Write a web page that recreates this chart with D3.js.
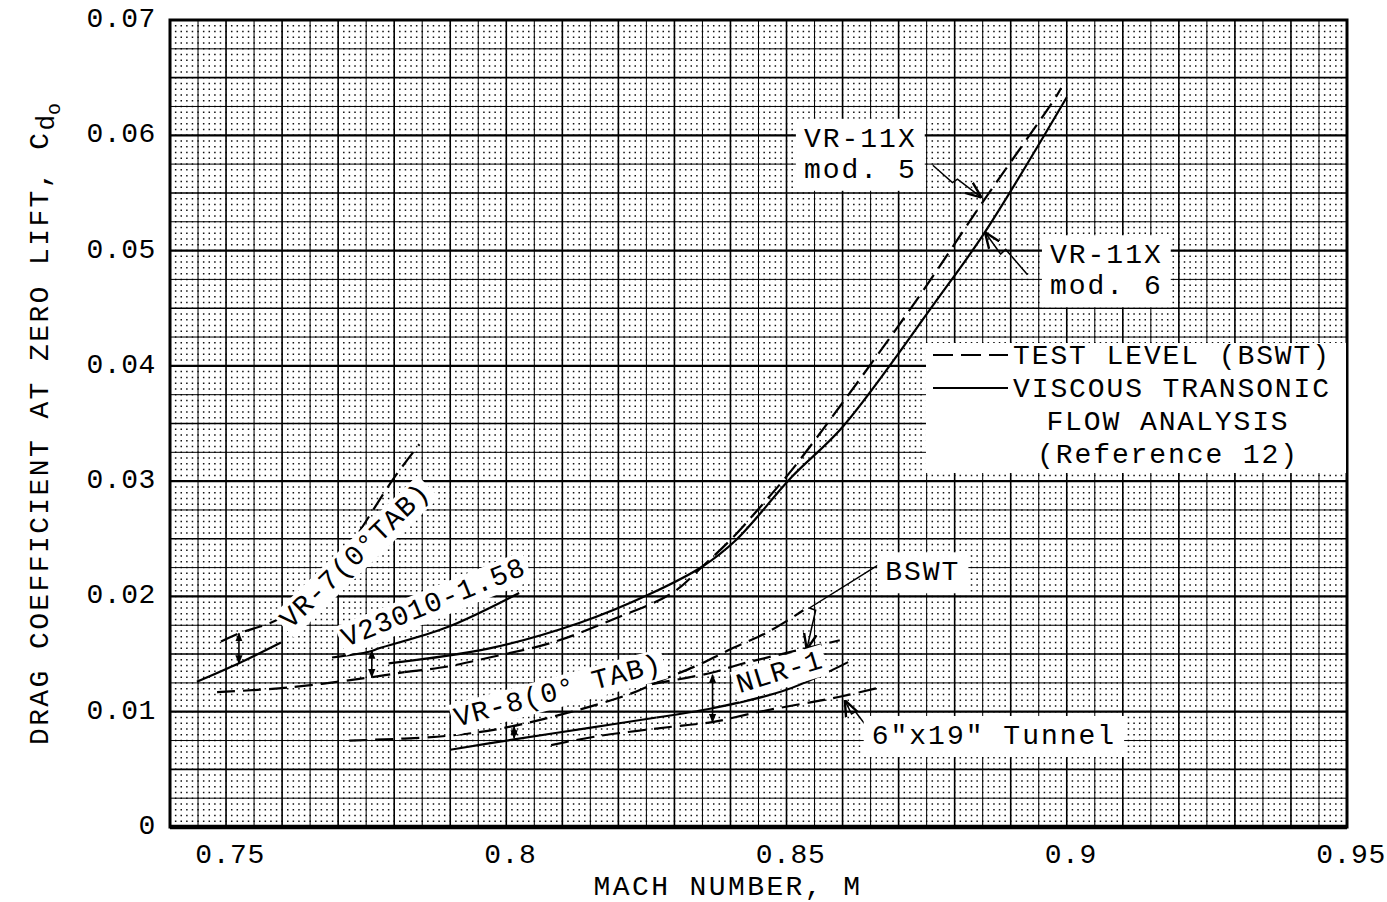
<!DOCTYPE html>
<html>
<head>
<meta charset="utf-8">
<script src="https://cdn.jsdelivr.net/npm/d3@7"></script>
<style>
  body { margin: 0; background: #fff; }
  svg text { font-family: "Liberation Mono", "DejaVu Sans Mono", monospace; fill: #000; }
</style>
</head>
<body>
<svg id="chart" width="1387" height="902"></svg>
<script>
// axis ticks
const xTicks = [0.75, 0.8, 0.85, 0.9, 0.95];
const xTickLabels = ["0.75", "0.8", "0.85", "0.9", "0.95"];
const yTicks = [0, 0.01, 0.02, 0.03, 0.04, 0.05, 0.06, 0.07];
const yTickLabels = ["0", "0.01", "0.02", "0.03", "0.04", "0.05", "0.06", "0.07"];

// curves, [mach, cd0]
const vr7Test = [[0.7491, 0.0161], [0.7523, 0.0168], [0.760, 0.0182], [0.769, 0.0223], [0.7732, 0.0252], [0.780, 0.0303], [0.7845, 0.0332]];
const vr7Analysis = [[0.7448, 0.0126], [0.7523, 0.0142], [0.7598, 0.0160]];
const v23010Test = [[0.7484, 0.0117], [0.7612, 0.0121], [0.776, 0.0130], [0.7818, 0.01344]];
const v23010Analysis = [[0.7689, 0.0147], [0.7755, 0.0152], [0.7773, 0.0155], [0.7893, 0.0173], [0.8023, 0.0203]];
const vr11xMod5 = [[0.7818, 0.01344], [0.7893, 0.0139], [0.797, 0.0147], [0.8082, 0.0160], [0.819, 0.0180], [0.8296, 0.0203],
  [0.835, 0.0226], [0.8404, 0.0251], [0.8452, 0.0277], [0.851, 0.0310], [0.860, 0.0368], [0.8732, 0.0457], [0.885, 0.0542],
  [0.8979, 0.0632], [0.899, 0.0641]];
const vr11xMod6 = [[0.779, 0.0142], [0.797, 0.0155], [0.813, 0.0177], [0.826, 0.0203], [0.835, 0.0226], [0.841, 0.0249],
  [0.851, 0.0304], [0.860, 0.0347], [0.8768, 0.0457], [0.8854, 0.0516], [0.900, 0.0633]];
const vr8Test = [[0.772, 0.0075], [0.7893, 0.0079], [0.8007, 0.0087], [0.8213, 0.0114], [0.828, 0.0128], [0.834, 0.0140],
  [0.8395, 0.0153], [0.847, 0.0170], [0.853, 0.0188]];
const vr8Analysis = [[0.790, 0.0067], [0.8014, 0.0076], [0.8148, 0.0086], [0.8268, 0.0095]];
const nlr1Analysis = [[0.8268, 0.0095], [0.8368, 0.0103], [0.850, 0.0119], [0.861, 0.0143]];
const nlr1Bswt = [[0.826, 0.0124], [0.8368, 0.0134], [0.8416, 0.0141], [0.850, 0.0151], [0.8595, 0.0162]];
const nlr1Tunnel = [[0.808, 0.0071], [0.8166, 0.0079], [0.8314, 0.0088], [0.8368, 0.0091], [0.8452, 0.0100], [0.8595, 0.0113], [0.8666, 0.0121]];

// small double arrows between test and analysis: [mach, low, high]
const deltaArrows = [[0.7523, 0.0142, 0.0168], [0.776, 0.0130, 0.0153], [0.8014, 0.0077, 0.0087], [0.8368, 0.0091, 0.0132]];

// leader lines to the callouts
const leaders = [
  [[0.8761, 0.0574], [0.8796, 0.0559], [0.8805, 0.0562], [0.8848, 0.0546]],
  [[0.8930, 0.0479], [0.8891, 0.0501], [0.8882, 0.0497], [0.8854, 0.0516]],
  [[0.8666, 0.0228], [0.8541, 0.0190], [0.8552, 0.0188], [0.8536, 0.0154]],
  [[0.8648, 0.0084], [0.8623, 0.0100], [0.8616, 0.0098], [0.8604, 0.0110]]
];

// curve labels written along the curves: [text, mach, cd, angle]
const curveLabels = [
  ["VR-7(0°TAB)", 0.7615, 0.0171, -44],
  ["V23010-1.58", 0.7714, 0.0156, -22],
  ["VR-8(0° TAB)", 0.7912, 0.0087, -15],
  ["NLR-1", 0.8416, 0.0116, -17]
];

// boxed callouts: [lines, mach, cd of first baseline]
const callouts = [
  [["VR-11X", "mod. 5"], 0.8531, 0.0590],
  [["VR-11X", "mod. 6"], 0.8970, 0.0489],
  [["BSWT"], 0.8676, 0.0214],
  [["6\"x19\" Tunnel"], 0.8652, 0.0072]
];

const legendItems = ["TEST LEVEL (BSWT)", "VISCOUS TRANSONIC"];
const legendNote = ["FLOW ANALYSIS", "(Reference 12)"];

const svg = d3.select("#chart");
const plotL = 170, plotR = 1347, plotT = 20, plotB = 827;

const x = d3.scaleLinear().domain([0.74, 0.95]).range([plotL, plotR]);
const y = d3.scaleLinear().domain([0, 0.07]).range([plotB, plotT]);

// ---- graph paper ----
const grid = svg.append("g");
const fineX = d3.range(0, 211).map(i => [i, 0.74 + i / 1000]);
const fineY = d3.range(0, 141).map(i => [i, i / 2000]);
const stepX = x(0.741) - x(0.74);

grid.selectAll("line.dots").data(fineY).join("line")
  .attr("x1", plotL - 0.7).attr("x2", plotR)
  .attr("y1", d => y(d[1])).attr("y2", d => y(d[1]))
  .attr("stroke", "#111").attr("stroke-width", 1.5)
  .attr("stroke-dasharray", `1.5,${stepX - 1.5}`);

grid.selectAll("line.vcell").data(fineX.filter(d => d[0] % 5 === 0)).join("line")
  .attr("x1", d => x(d[1])).attr("x2", d => x(d[1]))
  .attr("y1", plotT).attr("y2", plotB)
  .attr("stroke", "#000")
  .attr("stroke-width", d => d[0] % 10 === 0 ? 1.6 : 1);

grid.selectAll("line.hcell").data(fineY.filter(d => d[0] % 5 === 0)).join("line")
  .attr("x1", plotL).attr("x2", plotR)
  .attr("y1", d => y(d[1])).attr("y2", d => y(d[1]))
  .attr("stroke", "#000")
  .attr("stroke-width", d => d[0] % 20 === 0 ? 2.2 : (d[0] % 10 === 0 ? 1.6 : 1));

// frame
svg.append("rect").attr("x", plotL).attr("y", plotT)
  .attr("width", plotR - plotL).attr("height", plotB - plotT)
  .attr("fill", "none").attr("stroke", "#000").attr("stroke-width", 3);
svg.append("line").attr("x1", plotL).attr("x2", plotR).attr("y1", plotB).attr("y2", plotB)
  .attr("stroke", "#000").attr("stroke-width", 4.5);

// ---- tick labels ----
const tickFont = g => g.attr("font-size", 28).attr("letter-spacing", 0.6);
svg.append("g").call(tickFont).selectAll("text").data(xTicks).join("text")
  .attr("x", d => x(d) + 4).attr("y", 863).attr("text-anchor", "middle")
  .text((d, i) => xTickLabels[i]);
svg.append("g").call(tickFont).selectAll("text").data(yTicks).join("text")
  .attr("x", 156).attr("y", d => y(d) + 7).attr("text-anchor", "end")
  .text((d, i) => yTickLabels[i]);

// axis titles
svg.append("text").attr("x", 728).attr("y", 895)
  .attr("text-anchor", "middle").attr("font-size", 28).attr("letter-spacing", 2.4)
  .text("MACH NUMBER, M");

const yTitle = svg.append("text")
  .attr("transform", "translate(48,424) rotate(-90)")
  .attr("text-anchor", "middle").attr("font-size", 28).attr("letter-spacing", 2.4);
yTitle.append("tspan").text("DRAG COEFFICIENT AT ZERO LIFT, C");
yTitle.append("tspan").attr("dy", 6).attr("font-size", 26).attr("letter-spacing", 0).text("d");
yTitle.append("tspan").attr("dy", 6).attr("font-size", 20).attr("letter-spacing", 0).text("o");

// ---- curves ----
const line = d3.line().x(d => x(d[0])).y(d => y(d[1])).curve(d3.curveCatmullRom.alpha(0.5));
const series = [
  { pts: vr7Test, dashed: true },
  { pts: vr7Analysis, dashed: false },
  { pts: v23010Test, dashed: true },
  { pts: v23010Analysis, dashed: false },
  { pts: vr11xMod5, dashed: true },
  { pts: vr11xMod6, dashed: false },
  { pts: vr8Test, dashed: true },
  { pts: vr8Analysis, dashed: false },
  { pts: nlr1Analysis, dashed: false },
  { pts: nlr1Bswt, dashed: true },
  { pts: nlr1Tunnel, dashed: true }
];
svg.append("g").selectAll("path").data(series).join("path")
  .attr("d", d => line(d.pts))
  .attr("fill", "none").attr("stroke", "#000").attr("stroke-width", 2.2)
  .attr("stroke-dasharray", d => d.dashed ? "18,8" : null);

// arrowheads
const defs = svg.append("defs");
defs.append("marker").attr("id", "head").attr("viewBox", "0 0 10 10")
  .attr("refX", 9).attr("refY", 5).attr("markerWidth", 9).attr("markerHeight", 9)
  .attr("markerUnits", "userSpaceOnUse").attr("orient", "auto-start-reverse")
  .append("path").attr("d", "M0,1 L10,5 L0,9 Z").attr("fill", "#000");
defs.append("marker").attr("id", "open").attr("viewBox", "0 0 10 10")
  .attr("refX", 10).attr("refY", 5).attr("markerWidth", 16).attr("markerHeight", 16)
  .attr("markerUnits", "userSpaceOnUse").attr("orient", "auto")
  .append("path").attr("d", "M0,1 L10,5 L0,9").attr("fill", "none").attr("stroke", "#000").attr("stroke-width", 1.5);

svg.append("g").selectAll("line").data(deltaArrows).join("line")
  .attr("x1", d => x(d[0])).attr("x2", d => x(d[0]))
  .attr("y1", d => y(d[1])).attr("y2", d => y(d[2]))
  .attr("stroke", "#000").attr("stroke-width", 1.6)
  .attr("marker-start", "url(#head)").attr("marker-end", "url(#head)");

const leaderLine = d3.line().x(d => x(d[0])).y(d => y(d[1]));
svg.append("g").selectAll("path").data(leaders).join("path")
  .attr("d", leaderLine).attr("fill", "none")
  .attr("stroke", "#000").attr("stroke-width", 1.5)
  .attr("marker-end", "url(#open)");

// ---- labels with pasted-on white backing ----
function backed(g, pad) {
  const b = g.select("text").node().getBBox();
  g.insert("rect", "text")
    .attr("x", b.x - pad).attr("y", b.y - pad + 3)
    .attr("width", b.width + 2 * pad).attr("height", b.height + 2 * pad - 6)
    .attr("fill", "#fff");
}

curveLabels.forEach(([t, m, c, a]) => {
  const g = svg.append("g").attr("transform", `translate(${x(m)},${y(c)}) rotate(${a})`);
  g.append("text").attr("font-size", 28).attr("letter-spacing", 1).text(t);
  backed(g, 3);
});

callouts.forEach(([lines, m, c]) => {
  const g = svg.append("g").attr("transform", `translate(${x(m)},${y(c)})`);
  const t = g.append("text").attr("font-size", 28).attr("letter-spacing", 2);
  lines.forEach((s, i) => t.append("tspan").attr("x", 0).attr("dy", i ? 31 : 0).text(s));
  backed(g, 8);
});

// ---- legend ----
const lg = svg.append("g");
lg.append("rect").attr("x", 926).attr("y", 343).attr("width", plotR - 927).attr("height", 130).attr("fill", "#fff");
legendItems.forEach((s, i) => {
  const yy = 364 + i * 33;
  lg.append("line").attr("x1", 933).attr("x2", 1008).attr("y1", yy - 9).attr("y2", yy - 9)
    .attr("stroke", "#000").attr("stroke-width", 2)
    .attr("stroke-dasharray", i === 0 ? "20,8" : null);
  lg.append("text").attr("x", 1013).attr("y", yy).attr("font-size", 28).attr("letter-spacing", 1.9).text(s);
});
legendNote.forEach((s, i) => {
  lg.append("text").attr("x", 1168).attr("y", 430 + i * 33).attr("text-anchor", "middle")
    .attr("font-size", 28).attr("letter-spacing", 1.9).text(s);
});
</script>
</body>
</html>
